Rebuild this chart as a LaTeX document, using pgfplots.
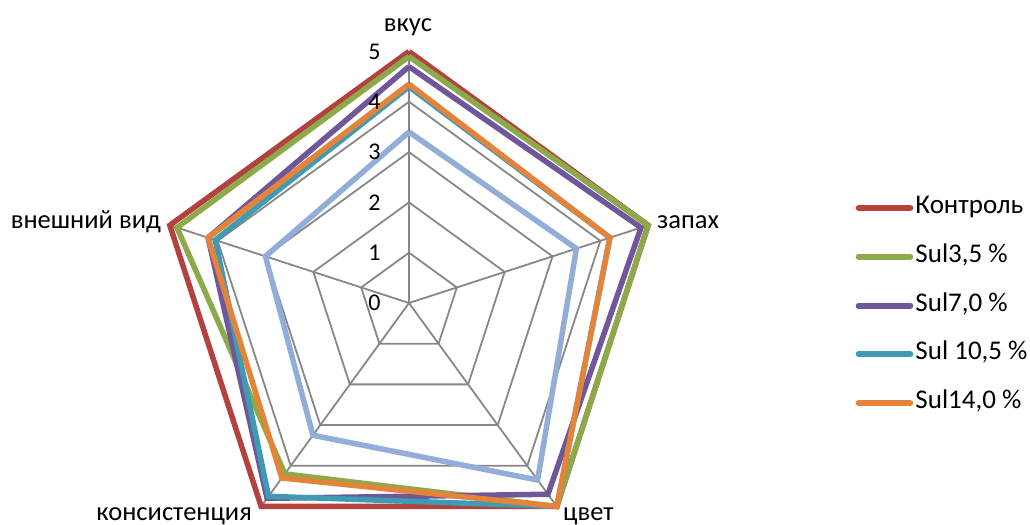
\documentclass[border=0pt]{standalone}
\usepackage{pgfplots}
\pgfplotsset{compat=1.18}
\usepgfplotslibrary{polar}
\usepackage{fontspec}
\setmainfont{Carlito}
\definecolor{cRed}{HTML}{B3423F}
\definecolor{cGreen}{HTML}{8DAA4B}
\definecolor{cPurple}{HTML}{70579A}
\definecolor{cTeal}{HTML}{3F9BB3}
\definecolor{cOrange}{HTML}{E3843A}
\definecolor{cLight}{HTML}{92AED6}
\definecolor{cGrid}{HTML}{878787}
\begin{document}
\begin{tikzpicture}
\begin{polaraxis}[
  at={(409bp,222bp)}, anchor=center,
  scale only axis, width=503bp, height=503bp,
  xmin=0, xmax=360, ymin=0, ymax=5,
  hide axis, clip=false,
  legend style={at={(1.388,0.495)}, anchor=west, draw=none, fill=none,
    inner sep=0pt, outer sep=0pt,
    font=\fontsize{27bp}{32bp}\selectfont,
    row sep=25.75bp, column sep=2.2bp,
    nodes={inner sep=0pt, text height=17bp, text depth=6bp}},
  legend cell align=left,
  legend image code/.code={\draw[#1, line width=6bp, line cap=round] (0bp,0bp) -- (51.6bp,0bp);},
]
% grid
\addplot[cGrid, line width=1.8bp, forget plot] coordinates {(90,1)(18,1)(-54,1)(-126,1)(162,1)(90,1)};
\addplot[cGrid, line width=1.8bp, forget plot] coordinates {(90,2)(18,2)(-54,2)(-126,2)(162,2)(90,2)};
\addplot[cGrid, line width=1.8bp, forget plot] coordinates {(90,3)(18,3)(-54,3)(-126,3)(162,3)(90,3)};
\addplot[cGrid, line width=1.8bp, forget plot] coordinates {(90,4)(18,4)(-54,4)(-126,4)(162,4)(90,4)};
\addplot[cGrid, line width=1.8bp, forget plot] coordinates {(90,5)(18,5)(-54,5)(-126,5)(162,5)(90,5)};
\addplot[cGrid, line width=1.8bp, forget plot] coordinates {(90,0)(90,5)};
\addplot[cGrid, line width=1.8bp, forget plot] coordinates {(18,0)(18,5)};
\addplot[cGrid, line width=1.8bp, forget plot] coordinates {(-54,0)(-54,5)};
\addplot[cGrid, line width=1.8bp, forget plot] coordinates {(-126,0)(-126,5)};
\addplot[cGrid, line width=1.8bp, forget plot] coordinates {(162,0)(162,5)};
% series: вкус, запах, цвет, консистенция, внешний вид
\addplot[cRed, line width=5.5bp] coordinates {(90,5)(18,5)(-54,5)(-126,5)(162,5)(90,5)};
\addlegendentry{Контроль}
\addplot[cGreen, line width=5.5bp] coordinates {(90,4.9)(18,5)(-54,5)(-126,4.2)(162,4.85)(90,4.9)};
\addlegendentry{Sul3,5 \%}
\addplot[cPurple, line width=5.5bp] coordinates {(90,4.7)(18,4.85)(-54,4.7)(-126,4.8)(162,4.2)(90,4.7)};
\addlegendentry{Sul7,0 \%}
\addplot[cTeal, line width=5.5bp] coordinates {(90,4.3)(18,4.2)(-54,5)(-126,4.75)(162,4.05)(90,4.3)};
\addlegendentry{Sul 10,5 \%}
\addplot[cOrange, line width=5.5bp] coordinates {(90,4.35)(18,4.2)(-54,5)(-126,4.3)(162,4.2)(90,4.35)};
\addlegendentry{Sul14,0 \%}
\addplot[cLight, line width=5.5bp, forget plot] coordinates {(90,3.4)(18,3.5)(-54,4.35)(-126,3.25)(162,3.0)(90,3.4)};
% tick labels
\node[font=\fontsize{24bp}{28bp}\selectfont, anchor=center, xshift=-34.5bp] at (axis cs:90,1) {1};
\node[font=\fontsize{24bp}{28bp}\selectfont, anchor=center, xshift=-34.5bp] at (axis cs:90,2) {2};
\node[font=\fontsize{24bp}{28bp}\selectfont, anchor=center, xshift=-34.5bp] at (axis cs:90,3) {3};
\node[font=\fontsize{24bp}{28bp}\selectfont, anchor=center, xshift=-34.5bp] at (axis cs:90,4) {4};
\node[font=\fontsize{24bp}{28bp}\selectfont, anchor=center, xshift=-34.5bp] at (axis cs:90,5) {5};
\node[font=\fontsize{24bp}{28bp}\selectfont, anchor=center, xshift=-34.5bp] at (axis cs:90,0) {0};
\end{polaraxis}
\begin{scope}[font=\fontsize{26.5bp}{31bp}\selectfont]
\node[anchor=base, inner sep=0pt] at (408bp,493bp) {вкус};
\node[anchor=base west, inner sep=0pt] at (657bp,296.5bp) {запах};
\node[anchor=base east, inner sep=0pt] at (161bp,296.5bp) {внешний вид};
\node[anchor=base west, inner sep=0pt] at (563bp,5bp) {цвет};
\node[anchor=base east, inner sep=0pt] at (252bp,5bp) {консистенция};
\end{scope}
\pgfresetboundingbox
\path[use as bounding box] (0,0) rectangle (1030bp,525bp);
\end{tikzpicture}
\end{document}
